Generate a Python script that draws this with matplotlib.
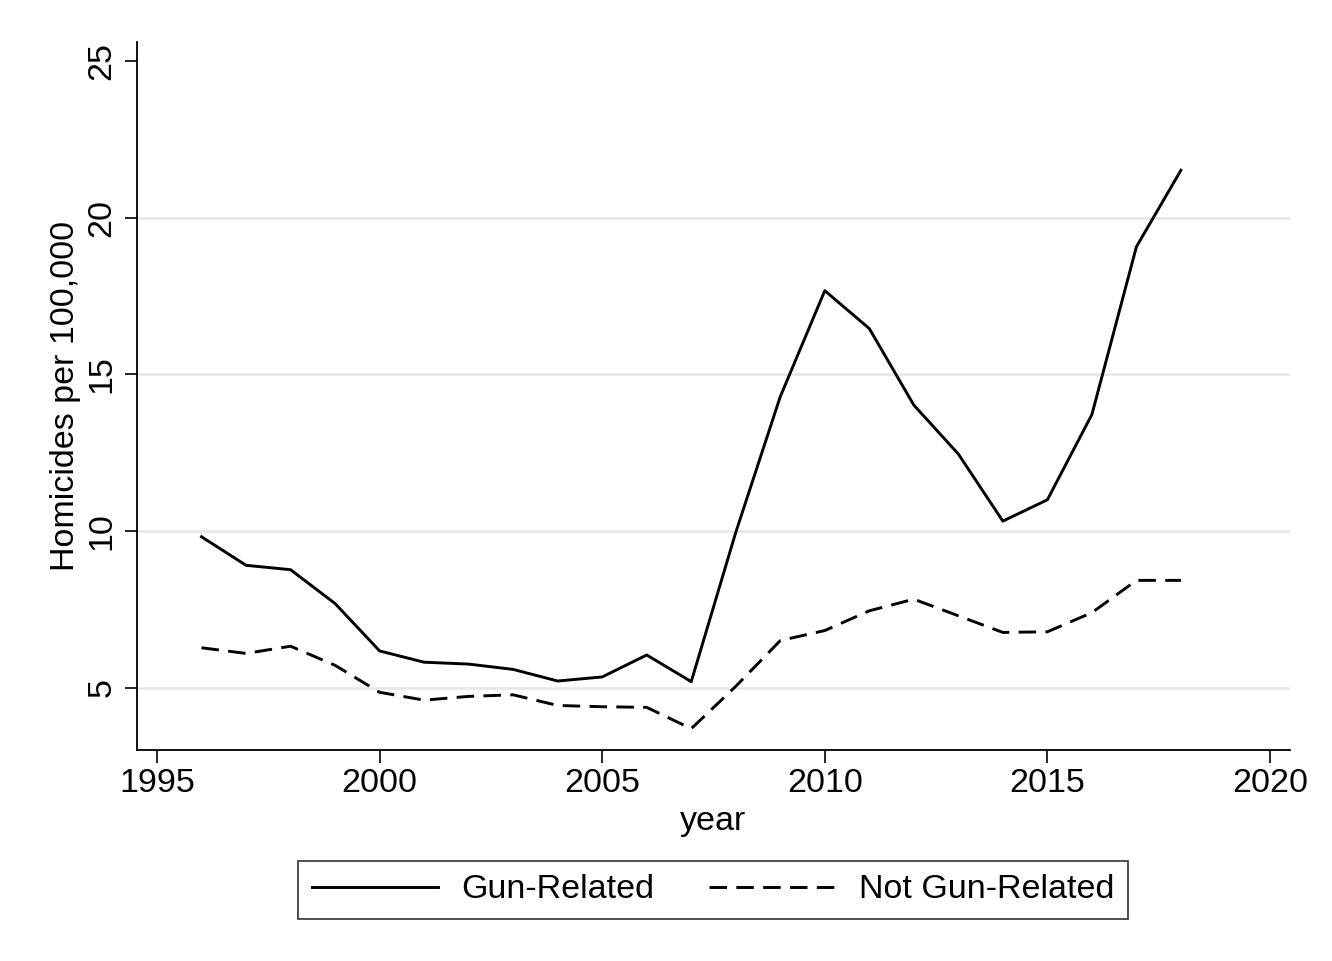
import numpy as np
import matplotlib
matplotlib.use("Agg")
import matplotlib.pyplot as plt

# data
years = list(range(1996, 2019))
gun_related = [9.82, 8.91, 8.77, 7.69, 6.18, 5.82, 5.76, 5.59, 5.22, 5.35, 6.05, 5.20,
               9.96, 14.29, 17.67, 16.46, 14.02, 12.46, 10.32, 11.00, 13.72, 19.07, 21.51]
not_gun_related = [6.28, 6.10, 6.33, 5.72, 4.86, 4.61, 4.73, 4.78, 4.44, 4.40, 4.38, 3.70,
                   5.05, 6.51, 6.83, 7.46, 7.83, 7.30, 6.77, 6.79, 7.40, 8.43, 8.43]
x_ticks = [1995, 2000, 2005, 2010, 2015, 2020]
y_ticks = [5, 10, 15, 20, 25]

plt.rcParams['font.family'] = ['Liberation Sans', 'DejaVu Sans']
FS = 24.5

fig = plt.figure(figsize=(13.32, 9.61), dpi=100)
ax = fig.add_axes([137 / 1332, 1 - 750 / 961, 1153 / 1332, 708 / 961])

ax.plot(years, gun_related, color='black', lw=2.1, label='Gun-Related')
ax.plot(years, not_gun_related, color='black', lw=2.1, dashes=(6.0, 3.2),
        label='Not Gun-Related')

ax.set_xlim(1994.55, 2020.45)
ax.set_ylim(3.02, 25.6)
ax.set_xticks(x_ticks)
ax.set_yticks(y_ticks)
ax.tick_params(axis='both', direction='out', length=9, width=1.2, labelsize=FS,
               color='black')
ax.tick_params(axis='y', pad=5)
ax.tick_params(axis='x', pad=4)
plt.setp(ax.get_yticklabels(), rotation=90, va='center')

ax.yaxis.grid(True, color='#e6e6e6', lw=1.8)
ax.get_ygridlines()[-1].set_visible(False)
ax.set_axisbelow(True)

for side in ['top', 'right']:
    ax.spines[side].set_visible(False)
for side in ['left', 'bottom']:
    ax.spines[side].set_linewidth(1.3)

ax.set_xlabel('year', fontsize=FS, labelpad=5)
ax.set_ylabel('Homicides per 100,000', fontsize=FS, labelpad=4)

leg = fig.legend(loc='center', bbox_to_anchor=(713 / 1332, 1 - 890 / 961), ncol=2,
                 fontsize=FS, frameon=True, fancybox=False, edgecolor='black',
                 handlelength=3.7, handletextpad=0.7, columnspacing=1.6,
                 borderpad=0.4)
leg.get_frame().set_linewidth(1.2)

fig.savefig('out.png', dpi=100, facecolor='white')
